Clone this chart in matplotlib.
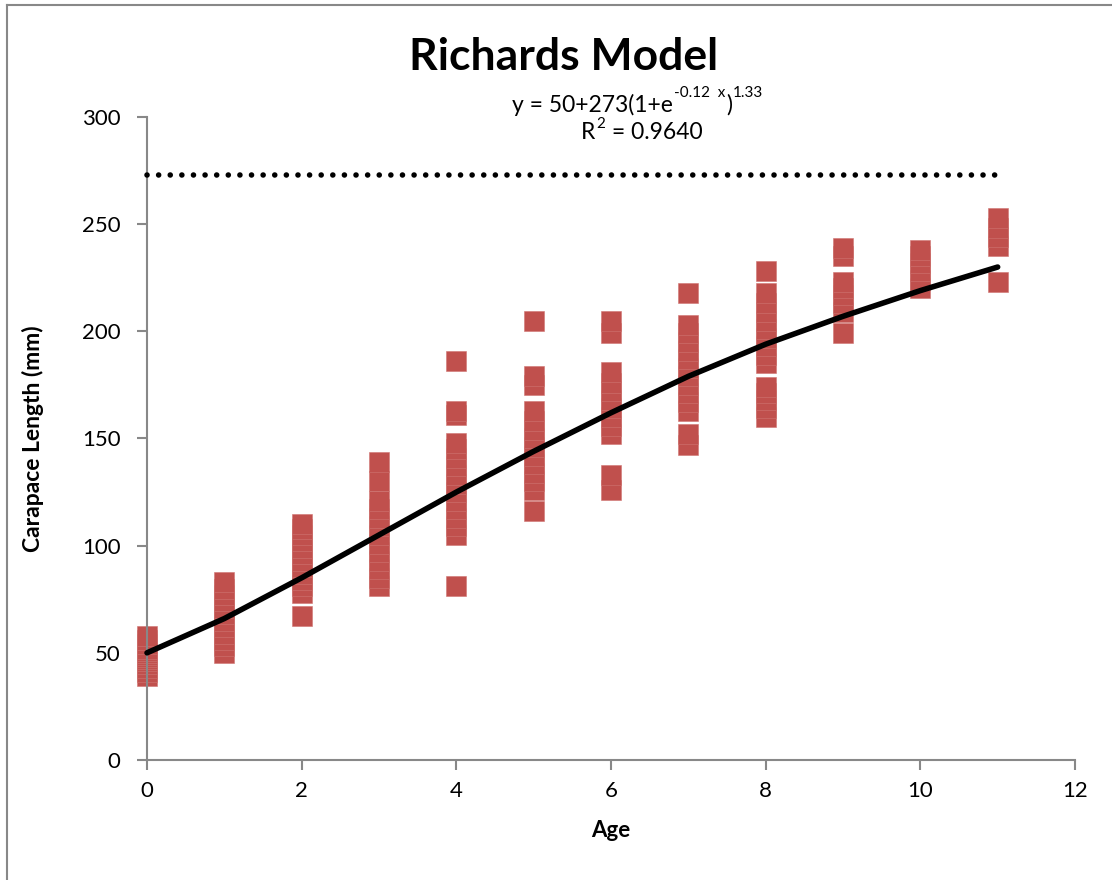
import numpy as np
import matplotlib.pyplot as plt
from matplotlib.lines import Line2D

age0 = [39, 41, 43, 45, 46, 47, 48, 49, 50, 51, 52, 54, 56, 58]
age1 = [50, 53, 56, 59, 62, 65, 68, 71, 74, 77, 80, 83]
age2 = [67, 78, 81, 84, 87, 90, 93, 96, 99, 102, 105, 108, 110]
age3 = [81, 85, 89, 93, 97, 101, 105, 109, 113, 117, 121, 130, 139]
age4 = [81, 105, 109, 113, 117, 121, 125, 129, 133, 137, 141, 145, 148, 161, 163, 186]
age5 = [116, 126, 130, 134, 138, 142, 146, 150, 154, 158, 163, 175, 179, 205]
age6 = [126, 133, 152, 156, 160, 164, 168, 172, 176, 181, 199, 205]
age7 = [147, 152, 163, 167, 171, 175, 179, 183, 187, 191, 195, 199, 203, 218]
age8 = [160, 164, 168, 171, 174, 185, 189, 193, 197, 201, 205, 209, 213, 218, 228]
age9 = [199, 209, 213, 217, 220, 223, 235, 239]
age10 = [220, 224, 228, 232, 235, 238]
age11 = [223, 240, 244, 248, 253]
observed = [age0, age1, age2, age3, age4, age5, age6, age7, age8, age9, age10, age11]

# fitted Richards curve, read at each age
fit_age = [0, 1, 2, 3, 4, 5, 6, 7, 8, 9, 10, 11]
fit_len = [50, 66, 85, 105, 125, 144, 162, 179, 194, 207, 219, 230]

asymptote = 273

plt.rcParams['font.family'] = ['Lato', 'DejaVu Sans']

W, H = 1112, 880
fig = plt.figure(figsize=(W / 100, H / 100), dpi=100)
ax = fig.add_axes([147 / W, 1 - 760 / H, (1075 - 147) / W, (760 - 117) / H])

# outer chart border (left and top visible)
fig.add_artist(Line2D([7 / W, 7 / W], [0, 1 - 5 / H], transform=fig.transFigure, color='#888888', lw=1.5))
fig.add_artist(Line2D([7 / W, 1], [1 - 5 / H, 1 - 5 / H], transform=fig.transFigure, color='#888888', lw=1.5))

for a, vals in enumerate(observed):
    ax.plot([a] * len(vals), vals, linestyle='none', marker='s', markersize=14.5,
            markerfacecolor='#C0504D', markeredgecolor='#CF7471', markeredgewidth=0.4,
            clip_on=False, zorder=2)

ax.plot(fit_age, fit_len, color='black', lw=4, solid_capstyle='round', zorder=3, clip_on=False)
ax.plot([fit_age[0], fit_age[-1]], [asymptote, asymptote], color='black', lw=4,
        linestyle=(0, (0.01, 2.08)), dash_capstyle='round', zorder=3, clip_on=False)

ax.set_xlim(0, 12)
ax.set_ylim(0, 300)
ax.set_xticks(np.arange(0, 13, 2))
ax.set_yticks(np.arange(0, 301, 50))
for s in ['top', 'right']:
    ax.spines[s].set_visible(False)
for s in ['left', 'bottom']:
    ax.spines[s].set_color('#888888')
    ax.spines[s].set_linewidth(1.5)
ax.tick_params(axis='both', colors='#888888', width=1.5, length=7, labelsize=16,
               labelcolor='black', pad=8)
ax.tick_params(axis='y', pad=12)

ax.set_xlabel('Age', fontsize=16, fontweight='bold', labelpad=14)
ax.set_ylabel('Carapace Length (mm)', fontsize=16.5, fontweight='bold', labelpad=27)
fig.text(564 / W, 1 - 57 / H, 'Richards Model', fontsize=32, fontweight='bold', ha='center', va='center')

# equation label built from plain text pieces with raised superscripts
renderer = fig.canvas.get_renderer()


def text_run(x_px, y_px, pieces):
    for s, size, rise in pieces:
        t = fig.text(x_px / W, 1 - (y_px - rise) / H, s, fontsize=size, ha='left', va='baseline')
        x_px += t.get_window_extent(renderer).width + 1


text_run(512, 112, [('y = 50+273(1+e', 16.5, 0), ('-0.12  x', 11, 15), (')', 16.5, 0), ('1.33', 11, 15)])
text_run(581, 139, [('R', 16.5, 0), ('2', 11, 11), (' = 0.9640', 16.5, 0)])

fig.savefig('out.png', dpi=100)
